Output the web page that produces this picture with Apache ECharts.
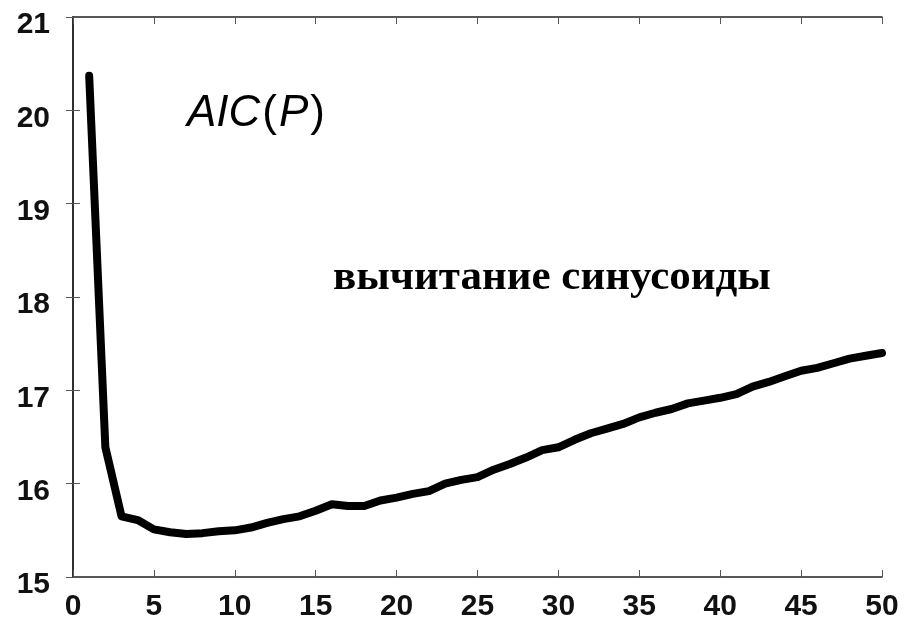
<!DOCTYPE html>
<html>
<head>
<meta charset="utf-8">
<script src="https://cdn.jsdelivr.net/npm/echarts@6/dist/echarts.min.js"></script>
<style>
  html, body { margin: 0; padding: 0; background: #fff; }
  #chart { width: 908px; height: 617px; }
</style>
</head>
<body>
<div id="chart"></div>
<script>
// Model order P and the information criterion AIC(P) after sinusoid subtraction
var orders = [1,2,3,4,5,6,7,8,9,10,11,12,13,14,15,16,17,18,19,20,21,22,23,24,25,
              26,27,28,29,30,31,32,33,34,35,36,37,38,39,40,41,42,43,44,45,46,47,48,49,50];
var aicValues = [20.37,16.39,15.65,15.61,15.51,15.48,15.46,15.47,15.49,15.50,
                 15.53,15.58,15.62,15.65,15.71,15.78,15.76,15.76,15.82,15.85,
                 15.89,15.92,16.00,16.04,16.07,16.15,16.21,16.28,16.36,16.39,
                 16.47,16.54,16.59,16.64,16.71,16.76,16.80,16.86,16.89,16.92,
                 16.96,17.04,17.09,17.15,17.21,17.24,17.29,17.34,17.37,17.40];
var xTicks = { min: 0, max: 50, step: 5 };
var yTicks = { min: 15, max: 21, step: 1 };
var noteLabel = 'вычитание синусоиды';

var points = orders.map(function (p, i) { return [p, aicValues[i]]; });

var axisLine = { show: true, lineStyle: { color: '#222', width: 1.5 } };
var tickIn = { show: true, inside: true, length: 7, lineStyle: { color: '#555', width: 1 } };
var numFont = { fontFamily: 'Liberation Sans, Arial, sans-serif', fontWeight: 'bold', fontSize: 30, color: '#111' };

var chart = echarts.init(document.getElementById('chart'), null, { renderer: 'canvas' });
chart.setOption({
  animation: false,
  backgroundColor: '#fff',
  grid: { left: 73, right: 26, top: 17, bottom: 40, containLabel: false, outerBoundsMode: 'none' },
  xAxis: [
    { type: 'value', min: xTicks.min, max: xTicks.max, interval: xTicks.step, position: 'bottom',
      axisLine: axisLine, axisTick: tickIn, splitLine: { show: false },
      axisLabel: Object.assign({ margin: 15 }, numFont) },
    { type: 'value', min: xTicks.min, max: xTicks.max, interval: xTicks.step, position: 'top',
      axisLine: axisLine, axisTick: tickIn, splitLine: { show: false }, axisLabel: { show: false } }
  ],
  yAxis: [
    { type: 'value', min: yTicks.min, max: yTicks.max, interval: yTicks.step, position: 'left',
      axisLine: axisLine, axisTick: tickIn, splitLine: { show: false },
      axisLabel: {
        margin: 23,
        formatter: '{v|{value}}',
        rich: { v: Object.assign({ padding: [16, 0, 0, 0] }, numFont) }
      } },
    { type: 'value', min: yTicks.min, max: yTicks.max, interval: yTicks.step, position: 'right',
      axisLine: axisLine, axisTick: tickIn, splitLine: { show: false }, axisLabel: { show: false } }
  ],
  series: [{
    type: 'line',
    data: points,
    showSymbol: false,
    symbol: 'none',
    clip: true,
    lineStyle: { color: '#000', width: 8, join: 'round', cap: 'round' }
  }],
  graphic: [
    {
      type: 'text', left: 187, top: 92,
      style: {
        text: '{i|AIC}{n|(}{i|P}{n|)}',
        rich: {
          i: { fontFamily: 'Liberation Sans, Arial, sans-serif', fontStyle: 'italic', fontSize: 44, fill: '#000' },
          n: { fontFamily: 'Liberation Sans, Arial, sans-serif', fontSize: 44, fill: '#000', padding: [0, 2, 0, 2] }
        }
      }
    },
    {
      type: 'text', left: 333, top: 256,
      style: {
        text: noteLabel,
        fontFamily: 'Liberation Serif, Times New Roman, serif',
        fontWeight: 'bold', fontSize: 43, fill: '#000'
      }
    }
  ]
});
</script>
</body>
</html>
